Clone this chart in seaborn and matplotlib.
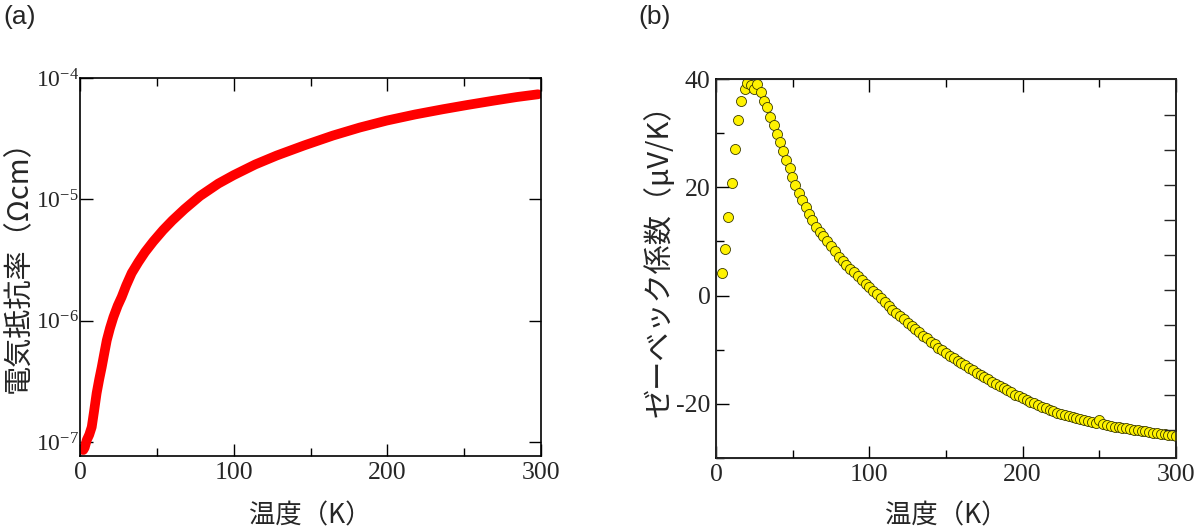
import numpy as np
import pandas as pd
import seaborn as sns
import matplotlib.pyplot as plt
from matplotlib.ticker import FixedLocator, MultipleLocator, NullLocator, FuncFormatter

# (a) resistivity vs temperature
res_T = [2.1, 3.0, 4.4, 6.0, 7.6, 9.0, 10.8, 12.5, 14.1, 15.8, 17.4, 19.5, 21.7,
         24.5, 27.1, 30.0, 33.6, 38.0, 42.3, 47.6, 54.0, 60.0, 68.0, 78.0, 90.0,
         100.0, 114.0, 128.0, 146.0, 164.6, 182.0, 199.5, 218.0, 236.0, 252.0,
         268.7, 284.0, 298.0]
res_rho = [8.6e-8, 9.0e-8, 1.04e-7, 1.15e-7, 1.33e-7, 1.75e-7, 2.53e-7, 3.3e-7,
           4.14e-7, 5.4e-7, 6.9e-7, 8.7e-7, 1.07e-6, 1.33e-6, 1.57e-6, 1.95e-6,
           2.47e-6, 3.05e-6, 3.68e-6, 4.49e-6, 5.58e-6, 6.69e-6, 8.32e-6, 1.065e-5,
           1.35e-5, 1.585e-5, 1.94e-5, 2.30e-5, 2.79e-5, 3.36e-5, 3.91e-5, 4.46e-5,
           5.01e-5, 5.53e-5, 6.00e-5, 6.50e-5, 6.97e-5, 7.35e-5]

# (b) Seebeck coefficient vs temperature
see_T = [4.1, 6.1, 7.6, 10.5, 12.4, 14.4, 16.6, 18.7, 20.5, 22.7, 24.8, 27.0, 29.2,
         31.0, 33.1, 35.3, 37.5, 39.7, 41.8, 43.6, 45.8, 48.0, 49.7, 51.8, 54.0,
         56.2, 58.4, 60.6, 62.7, 65.0,
         67.5, 70, 72.5, 75, 77.5, 80, 82.5, 85, 87.5, 90, 92.5, 95, 97.5, 100,
         102.5, 105, 107.5, 110, 112.5, 115, 117.5, 120, 122.5, 125, 127.5, 130,
         132.5, 135, 137.5, 140, 142.5, 145, 147.5, 150, 152.5, 155, 157.5, 160,
         162.5, 165, 167.5, 170, 172.5, 175, 177.5, 180, 182.5, 185, 187.5, 190,
         192.5, 195, 197.5, 200, 202.5, 205, 207.5, 210, 212.5, 215, 217.5, 220,
         222.5, 225, 227.5, 230, 232.5, 235, 237.5, 240, 242.5, 245, 247.5, 250,
         252.5, 255, 257.5, 260, 262.5, 265, 267.5, 270, 272.5, 275, 277.5, 280,
         282.5, 285, 287.5, 290, 292.5, 295, 297.5, 300]
see_S = [4.2, 8.6, 14.5, 20.8, 27.0, 32.4, 36.0, 38.1, 39.2, 38.9, 38.1, 39.1, 37.6,
         36.0, 34.8, 33.0, 31.5, 29.9, 28.4, 26.7, 25.0, 23.6, 21.9, 20.5, 18.9,
         17.6, 16.4, 15.1, 13.9, 12.6,
         11.8, 11.0, 10.1, 9.2, 8.3, 7.2, 6.4, 5.7, 5.0, 4.3, 3.6, 2.9, 2.2, 1.5,
         0.9, 0.2, -0.5, -1.2, -1.9, -2.6, -3.2, -3.8, -4.4, -5.0, -5.6, -6.2,
         -6.8, -7.4, -7.9, -8.5, -9.0, -9.6, -10.1, -10.6, -11.1, -11.6, -12.0, -12.5,
         -12.9, -13.4, -13.8, -14.3, -14.7, -15.1, -15.5, -15.9, -16.3, -16.7, -17.0, -17.5,
         -17.9, -18.3, -18.6, -19.0, -19.3, -19.6, -19.9, -20.3, -20.5, -20.8, -21.1, -21.3,
         -21.6, -21.8, -22.0, -22.2, -22.4, -22.6, -22.8, -23.0, -23.1, -23.3, -23.5, -23.0,
         -23.8, -23.9, -24.1, -24.2, -24.3, -24.4, -24.5, -24.6, -24.8, -24.9, -25.0, -25.1,
         -25.2, -25.3, -25.4, -25.5, -25.6, -25.7, -25.8, -25.9]

x_label = '温度（K）'
ylabel_a = '電気抵抗率（Ωcm）'
ylabel_b = 'ゼーベック係数（μV/K）'

sns.set_style('ticks')
plt.rcParams['font.serif'] = ['Liberation Serif', 'DejaVu Serif']
plt.rcParams['font.family'] = ['serif']
plt.rcParams['mathtext.fontset'] = 'custom'
plt.rcParams['mathtext.rm'] = 'Liberation Serif'
plt.rcParams['mathtext.it'] = 'Liberation Serif:italic'
plt.rcParams['axes.unicode_minus'] = False
cjk = ['Noto Sans CJK JP', 'DejaVu Sans']

fig = plt.figure(figsize=(12, 5.31), dpi=100)
ax1 = fig.add_axes([0.0667, 0.1412, 0.3842, 0.7118])
ax2 = fig.add_axes([0.5967, 0.1375, 0.3833, 0.7137])

df_a = pd.DataFrame({'T': res_T, 'rho': res_rho})
sns.lineplot(data=df_a, x='T', y='rho', ax=ax1, color='#ff0000', lw=7,
             solid_capstyle='round', solid_joinstyle='round')
ax1.set_yscale('log')
ax1.set_xlim(0, 300)
ax1.set_ylim(10 ** -7.115, 1e-4)
ax1.yaxis.set_major_locator(FixedLocator([1e-7, 1e-6, 1e-5, 1e-4]))
ax1.yaxis.set_minor_locator(NullLocator())
ax1.yaxis.set_major_formatter(FuncFormatter(
    lambda v, p: r'$\mathregular{10^{%d}}$' % round(np.log10(v))))

df_b = pd.DataFrame({'T': see_T, 'S': see_S})
sns.scatterplot(data=df_b, x='T', y='S', ax=ax2, color='#fff200', s=52,
                edgecolor='#3a3a00', linewidth=0.6, zorder=3)
ax2.set_xlim(0, 300)
ax2.set_ylim(-30, 40)
ax2.yaxis.set_major_locator(MultipleLocator(20))
ax2.yaxis.set_minor_locator(MultipleLocator(10))

for ax, yl in [(ax1, ylabel_a), (ax2, ylabel_b)]:
    ax.xaxis.set_major_locator(MultipleLocator(100))
    ax.xaxis.set_minor_locator(MultipleLocator(50))
    ax.tick_params(which='both', direction='in', top=True, labelsize=18.5,
                   width=1, color='black', pad=4)
    ax.tick_params(which='major', length=9)
    ax.tick_params(which='minor', length=6)
    for sp in ax.spines.values():
        sp.set_linewidth(1.2)
        sp.set_color('black')
    ax.set_xlabel(x_label, family=cjk, fontsize=19)
    ax.set_ylabel(yl, family=cjk, fontsize=21)

ax1.tick_params(axis='y', which='both', right=True, pad=1, labelsize=17)
for ax in (ax1, ax2):
    for lbl in ax.get_xticklabels() + ax.get_yticklabels():
        lbl.set_family('Liberation Serif')
ax1.xaxis.set_label_coords(0.5, -0.122)
ax1.yaxis.set_label_coords(-0.1, 0.52)
ax2.xaxis.set_label_coords(0.5, -0.118)
ax2.yaxis.set_label_coords(-0.089, 0.54)

# right side of (b) carries its own tick spacing
twin = ax2.twinx()
twin.set_ylim(-0.8, 10.03)
twin.yaxis.set_major_locator(FixedLocator(range(0, 10)))
twin.tick_params(direction='in', length=9, width=1, labelright=False)
twin.spines['right'].set_linewidth(1.2)

fig.text(0.003, 0.99, '(a)', family=['Liberation Sans'], fontsize=19, va='top')
fig.text(0.532, 0.99, '(b)', family=['Liberation Sans'], fontsize=19, va='top')

fig.savefig('out.png', dpi=100)
